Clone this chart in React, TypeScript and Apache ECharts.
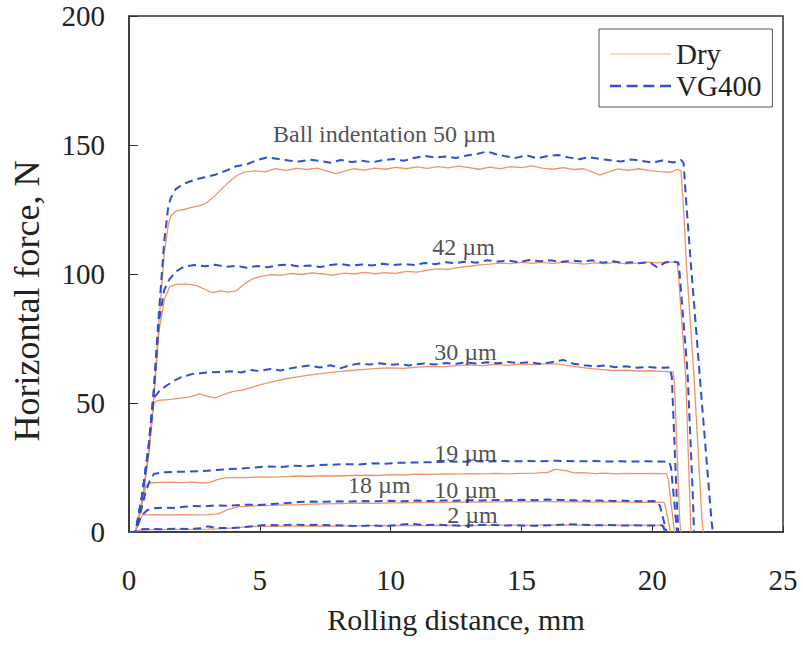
import React, { useEffect, useRef } from "react";
import * as echarts from "echarts";

// Horizontal force vs rolling distance, dry and VG400-lubricated rolling,
// for several ball indentation depths. Points are [distance mm, force N].
const dry50: [number, number][] = [
  [0, 0], [0.25, 0], [0.5, 12], [0.75, 30], [0.95, 52], [1.15, 82], [1.35, 108], [1.5, 119], [1.6, 122.5],
  [1.8, 124.5], [2.1, 125], [2.4, 125.8], [2.7, 126.5], [2.95, 127.5], [3.2, 129.5], [3.5, 132.5], [3.8, 135.5],
  [4.1, 138], [4.4, 139.5], [4.8, 140], [5.2, 139.6], [5.6, 140.8], [6.0, 140.2], [6.4, 140.9], [6.8, 140.5],
  [7.2, 141], [7.6, 139.8], [7.9, 138.9], [8.2, 139.8], [8.6, 140.8], [9.0, 140.3], [9.4, 141], [9.8, 140.6],
  [10.2, 141.3], [10.6, 140.8], [11.0, 141.5], [11.4, 140.9], [11.8, 141.6], [12.2, 141.1], [12.6, 141.8],
  [13.0, 141.2], [13.4, 140.6], [13.8, 141.4], [14.2, 140.8], [14.6, 141.6], [15.0, 141.2], [15.4, 141.9],
  [15.8, 141], [16.2, 140.6], [16.6, 141.2], [17.0, 140.5], [17.4, 140.8], [17.7, 139.6], [18.0, 138.3],
  [18.3, 139.5], [18.7, 140.7], [19.1, 140.2], [19.5, 140.8], [19.9, 140.1], [20.3, 139.7], [20.7, 139.4],
  [20.95, 140.6], [21.1, 140], [21.2, 125], [21.3, 105], [21.6, 60], [21.9, 5], [21.95, 0],
];

const vg50: [number, number][] = [
  [0, 0], [0.25, 0], [0.5, 14], [0.75, 33], [0.95, 55], [1.15, 86], [1.35, 113], [1.5, 126], [1.6, 129.5],
  [1.8, 133], [2.1, 135], [2.5, 136.5], [2.9, 137.5], [3.3, 138.5], [3.7, 140], [4.1, 141.8], [4.5, 142.5],
  [4.9, 144.2], [5.3, 145.2], [5.7, 144.6], [6.1, 144], [6.5, 143.6], [6.9, 144.3], [7.3, 143.8], [7.7, 143.1],
  [8.1, 144.2], [8.5, 143.4], [8.9, 143.9], [9.3, 143.3], [9.7, 144.1], [10.1, 144.6], [10.5, 143.9], [10.9, 145],
  [11.3, 145.8], [11.7, 145.1], [12.1, 145.5], [12.5, 145], [12.9, 145.9], [13.3, 146.5], [13.7, 147.5],
  [14.0, 146.5], [14.4, 145.6], [14.8, 145], [15.2, 146], [15.6, 144.8], [16.0, 145.7], [16.4, 146.1],
  [16.8, 145.2], [17.2, 144.5], [17.6, 145.3], [18.0, 144.6], [18.4, 144.1], [18.8, 143.6], [19.2, 144.4],
  [19.6, 143.8], [20.0, 143.2], [20.4, 144], [20.8, 143.2], [21.1, 144.2], [21.2, 143], [21.3, 128],
  [21.44, 109], [21.9, 50], [22.27, 4], [22.32, 0],
];

const dry42: [number, number][] = [
  [0, 0], [0.25, 0], [0.5, 12], [0.75, 30], [0.95, 52], [1.15, 78], [1.35, 90], [1.55, 95], [1.8, 96],
  [2.2, 96.2], [2.6, 95.5], [2.9, 94], [3.2, 92.8], [3.5, 93.5], [3.8, 93], [4.1, 93.5], [4.4, 96], [4.7, 98],
  [5.0, 99], [5.4, 99.8], [5.8, 99.5], [6.2, 100.2], [6.6, 99.8], [7.0, 100.4], [7.4, 100], [7.8, 99.6],
  [8.2, 100.3], [8.6, 100], [9.0, 100.6], [9.4, 100.1], [9.8, 100.5], [10.2, 100.2], [10.6, 101], [11.0, 100.7],
  [11.4, 101.5], [11.8, 102], [12.2, 101.8], [12.6, 102.6], [13.0, 103], [13.4, 103.5], [13.8, 103.8],
  [14.2, 104.2], [14.6, 104], [15.0, 104.5], [15.4, 104.1], [15.8, 104.5], [16.2, 104], [16.6, 104.6],
  [17.0, 104.2], [17.4, 103.8], [17.8, 104.3], [18.2, 104], [18.6, 104.5], [19.0, 103.9], [19.4, 104.2],
  [19.8, 104.6], [20.2, 104.3], [20.6, 104.7], [20.95, 104.5], [21.0, 100], [21.28, 60], [21.44, 12], [21.48, 0],
];

const vg42: [number, number][] = [
  [0, 0], [0.25, 0], [0.5, 14], [0.75, 33], [0.95, 55], [1.15, 82], [1.35, 94], [1.55, 98], [1.8, 101],
  [2.1, 102.8], [2.5, 103.5], [2.9, 103], [3.3, 103.6], [3.7, 102.8], [4.1, 103.2], [4.5, 102.4], [4.9, 103.1],
  [5.3, 102.6], [5.7, 103.4], [6.1, 103.7], [6.5, 102.9], [6.9, 103.3], [7.3, 102.7], [7.7, 103.5], [8.1, 103.9],
  [8.5, 103.2], [8.9, 103.7], [9.3, 103.3], [9.7, 104], [10.1, 103.5], [10.5, 103.9], [10.9, 103.5],
  [11.3, 104.3], [11.7, 103.8], [12.1, 104.6], [12.5, 104.2], [12.9, 104.9], [13.3, 104.4], [13.7, 105.3],
  [14.1, 104.8], [14.5, 105.2], [14.9, 104.6], [15.3, 105.4], [15.7, 104.9], [16.1, 105.3], [16.5, 104.6],
  [16.9, 105.2], [17.3, 104.8], [17.7, 105.3], [18.1, 104.4], [18.5, 104.9], [18.9, 104.3], [19.2, 104.6],
  [19.5, 104.2], [19.9, 104.6], [20.2, 102.5], [20.5, 104.5], [20.8, 104.8], [21.0, 104.5], [21.05, 100],
  [21.35, 62], [21.55, 15], [21.6, 0],
];

const dry30: [number, number][] = [
  [0, 0], [0.25, 0], [0.5, 12], [0.75, 30], [0.95, 50], [1.1, 51], [1.5, 51.3], [1.9, 51.8], [2.3, 52.3],
  [2.7, 53.5], [3.0, 52.6], [3.3, 52], [3.6, 53.2], [3.95, 54.4], [4.3, 55], [4.6, 55.8], [5.0, 57], [5.5, 58.3],
  [6.0, 59.4], [6.5, 60.2], [7.0, 61], [7.5, 61.6], [8.0, 62.2], [8.5, 62.6], [9.0, 63], [9.5, 63.4], [10.0, 63.6],
  [10.5, 63.4], [11.0, 63.9], [11.5, 64.2], [12.0, 64], [12.5, 64.5], [13.0, 64.8], [13.5, 64.5], [14.0, 65],
  [14.5, 64.6], [15.0, 65.2], [15.5, 64.8], [16.0, 65.3], [16.5, 65], [17.0, 64.2], [17.5, 63.5], [18.0, 63],
  [18.5, 62.6], [19.0, 62.7], [19.5, 62.4], [20.0, 62.5], [20.5, 62.2], [20.8, 62.1], [20.85, 58], [21.05, 5],
  [21.1, 0],
];

const vg30: [number, number][] = [
  [0, 0], [0.25, 0], [0.5, 14], [0.75, 33], [0.95, 52], [1.15, 54.5], [1.4, 56.5], [1.66, 58.3], [2.0, 60],
  [2.4, 61.2], [2.8, 61.6], [3.1, 61.9], [3.5, 62], [3.9, 62.3], [4.3, 61.8], [4.6, 62.8], [5.0, 62.4],
  [5.4, 63.2], [5.8, 62.6], [6.1, 63.3], [6.5, 64], [6.9, 64.5], [7.3, 63.8], [7.7, 64.6], [8.1, 63.5],
  [8.5, 64.8], [8.8, 65.3], [9.2, 64.9], [9.6, 65.4], [10.0, 64.8], [10.4, 65.1], [10.7, 64.5], [11.0, 65],
  [11.3, 65.3], [11.7, 64.9], [12.1, 65.5], [12.5, 65.2], [12.9, 65.7], [13.3, 65.3], [13.7, 65.8], [14.1, 65.4],
  [14.5, 65.9], [14.9, 65.5], [15.3, 65.8], [15.7, 65.2], [16.1, 65.7], [16.6, 66.7], [17.0, 65.2], [17.4, 64.6],
  [17.8, 64.2], [18.2, 64.5], [18.6, 63.9], [19.0, 64.2], [19.4, 63.7], [19.8, 64], [20.2, 63.6], [20.67, 63.8],
  [20.75, 60], [20.95, 10], [21.0, 0],
];

const vg19: [number, number][] = [
  [0, 0], [0.25, 0], [0.45, 8], [0.65, 16], [0.8, 20], [0.95, 22.5], [1.3, 23.2], [1.8, 23.3], [2.3, 23.4],
  [2.8, 23.6], [3.3, 24], [3.8, 24.4], [4.3, 24.6], [4.8, 25], [5.3, 25.4], [5.8, 25.2], [6.3, 25.7], [6.8, 25.5],
  [7.3, 26], [7.8, 26.1], [8.3, 26.3], [8.8, 26.2], [9.3, 26.6], [9.8, 26.5], [10.3, 26.8], [10.8, 26.9],
  [11.3, 27], [11.8, 27.1], [12.3, 27.3], [12.8, 27.2], [13.3, 27.4], [13.8, 27.3], [14.3, 27.5], [14.8, 27.4],
  [15.3, 27.5], [15.8, 27.4], [16.3, 27.6], [16.8, 27.5], [17.3, 27.4], [17.8, 27.5], [18.3, 27.3], [18.8, 27.4],
  [19.3, 27.3], [19.8, 27.4], [20.3, 27.3], [20.65, 27.2], [20.72, 25], [20.95, 0],
];

const dry18: [number, number][] = [
  [0, 0], [0.25, 0], [0.45, 8], [0.64, 18], [0.8, 19], [1.2, 19.2], [1.6, 19.3], [2.0, 19.1], [2.4, 19.4],
  [2.8, 19], [3.1, 19.2], [3.4, 20.4], [3.7, 21], [4.1, 21.2], [4.5, 21.1], [5.0, 21.4], [5.5, 21.3], [6.0, 21.5],
  [6.5, 21.7], [7.0, 21.6], [7.5, 21.8], [8.0, 21.7], [8.5, 21.9], [9.0, 22], [9.5, 21.9], [10.0, 22.2],
  [10.5, 22.1], [11.0, 22.4], [11.5, 22.3], [12.0, 22.5], [12.5, 22.4], [13.0, 22.6], [13.5, 22.5], [14.0, 22.7],
  [14.5, 22.5], [15.0, 22.7], [15.5, 22.8], [16.0, 23.1], [16.3, 24.3], [16.7, 23.8], [17.0, 22.9], [17.4, 23],
  [17.8, 22.6], [18.2, 22.8], [18.6, 22.5], [19.0, 22.7], [19.5, 22.6], [20.0, 22.7], [20.55, 22.6], [20.62, 20],
  [20.85, 0],
];

const vg10: [number, number][] = [
  [0, 0], [0.25, 0], [0.45, 6], [0.7, 8.5], [0.96, 9.2], [1.3, 9.4], [1.7, 9.3], [2.1, 9.8], [2.5, 10.1],
  [2.9, 9.9], [3.3, 10.3], [3.7, 10.2], [4.1, 10.4], [4.5, 10.6], [5.0, 10.5], [5.5, 10.9], [6.0, 11.2],
  [6.5, 11.6], [7.0, 11.8], [7.5, 11.7], [8.0, 11.9], [8.5, 11.8], [9.0, 12], [9.5, 11.9], [10.0, 12.1],
  [10.5, 11.9], [11.0, 12.2], [11.5, 12], [12.0, 12.2], [12.5, 12.1], [13.0, 12.3], [13.5, 12.2], [14.0, 12.4],
  [14.5, 12.3], [15.0, 12.5], [15.5, 12.3], [16.0, 12.6], [16.5, 12.4], [17.0, 12.3], [17.5, 12.1], [18.0, 12.2],
  [18.5, 12], [19.0, 12.1], [19.5, 11.9], [20.0, 12], [20.2, 11.9], [20.3, 10], [20.55, 0],
];

const dry10: [number, number][] = [
  [0, 0], [0.25, 0], [0.4, 4], [0.51, 6.6], [1.0, 6.7], [1.5, 6.6], [2.0, 6.7], [2.5, 6.6], [3.0, 6.7],
  [3.4, 7], [3.8, 8.8], [4.2, 9.8], [4.6, 10], [5.0, 10.2], [5.5, 10.3], [6.0, 10.5], [6.5, 10.6], [7.0, 10.8],
  [7.5, 10.9], [8.0, 11], [8.5, 11.1], [9.0, 11.2], [9.5, 11.1], [10.0, 11.3], [10.5, 11.3], [11.0, 11.4],
  [11.5, 11.5], [12.0, 11.5], [12.5, 11.6], [13.0, 11.7], [13.5, 11.6], [14.0, 11.7], [14.5, 11.8], [15.0, 11.7],
  [15.5, 11.8], [16.0, 11.8], [16.5, 11.7], [17.0, 11.8], [17.5, 11.6], [18.0, 11.7], [18.5, 11.6], [19.0, 11.6],
  [19.5, 11.5], [20.0, 11.6], [20.45, 11.5], [20.5, 10], [20.7, 0],
];

const vg2: [number, number][] = [
  [0, 0], [0.25, 0], [0.4, 1], [0.8, 1.2], [1.3, 1.1], [1.8, 1.3], [2.3, 1.2], [2.8, 1.5], [3.0, 2.2],
  [3.3, 1.6], [3.8, 1.5], [4.3, 1.8], [4.8, 2.3], [5.3, 2.8], [5.8, 2.6], [6.3, 2.9], [6.8, 2.7], [7.3, 2.8],
  [7.8, 2.6], [8.3, 2.5], [8.8, 2.3], [9.3, 2.6], [9.8, 2.2], [10.3, 2.8], [10.8, 3.2], [11.3, 2.7], [11.8, 2.8],
  [12.3, 2.6], [12.8, 2.4], [13.3, 2.7], [13.8, 2.8], [14.3, 2.5], [14.8, 2.6], [15.3, 2.4], [15.8, 2.5],
  [16.3, 2.7], [16.8, 3], [17.3, 2.8], [17.8, 2.6], [18.3, 2.7], [18.8, 2.5], [19.3, 2.6], [19.8, 2.5],
  [20.3, 2.6], [20.4, 2.5], [20.5, 0],
];

const dry2: [number, number][] = [
  [0, 0], [0.25, 0], [0.4, 0.8], [1.0, 0.9], [2.0, 1.0], [3.0, 1.1], [3.5, 1.2], [4.0, 1.6], [4.5, 2], [5.0, 2.2],
  [6.0, 2.3], [7.0, 2.4], [8.0, 2.3], [9.0, 2.5], [10.0, 2.6], [11.0, 2.5], [12.0, 2.6], [13.0, 2.5], [14.0, 2.7],
  [15.0, 2.6], [16.0, 2.8], [17.0, 2.7], [18.0, 2.6], [19.0, 2.7], [20.0, 2.6], [20.45, 2.6], [20.55, 0],
];

const dryCurves = [dry50, dry42, dry30, dry18, dry10, dry2];
const vgCurves = [vg50, vg42, vg30, vg19, vg10, vg2];

// Indentation depth labels, anchored at [distance, force]
const labelTexts = ["Ball indentation 50 µm", "42 µm", "30 µm", "19 µm", "18 µm", "10 µm", "2 µm"];
const labelX = [9.76, 12.79, 12.86, 12.86, 9.57, 12.86, 13.13];
const labelY = [154.3, 110.5, 69.8, 30.6, 18.2, 16.3, 6.6];

const xTicks = { min: 0, max: 25, step: 5 };
const yTicks = { min: 0, max: 200, step: 50 };

const FONT = "Liberation Serif, Times New Roman, serif";
const DRY_COLOR = "#EE9468";
const VG_COLOR = "#2F4FD2";
const TEXT_COLOR = "#222";
const AXIS_COLOR = "#333";

export default function App() {
  const ref = useRef<HTMLDivElement>(null);

  useEffect(() => {
    if (!ref.current) return;
    const chart = echarts.init(ref.current, null, { renderer: "svg" });

    const drySeries = dryCurves.map((d) => ({
      type: "line",
      name: "Dry",
      data: d,
      symbol: "none",
      showSymbol: false,
      z: 2,
      itemStyle: { color: DRY_COLOR },
      lineStyle: { color: DRY_COLOR, width: 1.3 },
    }));
    const vgSeries = vgCurves.map((d) => ({
      type: "line",
      name: "VG400",
      data: d,
      symbol: "none",
      showSymbol: false,
      z: 3,
      itemStyle: { color: VG_COLOR },
      lineStyle: { color: VG_COLOR, width: 2, type: [8, 5] },
    }));
    const labelSeries = {
      type: "scatter",
      name: "labels",
      silent: true,
      symbolSize: 1,
      z: 4,
      itemStyle: { color: "rgba(0,0,0,0)" },
      data: labelTexts.map((t, i) => ({ name: t, value: [labelX[i], labelY[i]] })),
      label: {
        show: true,
        position: "inside",
        formatter: "{b}",
        fontFamily: FONT,
        fontSize: 24,
        color: TEXT_COLOR,
      },
    };

    chart.setOption({
      animation: false,
      backgroundColor: "#ffffff",
      textStyle: { fontFamily: FONT },
      grid: {
        left: 129,
        right: 20,
        top: 16,
        bottom: 114,
        show: true,
        borderColor: AXIS_COLOR,
        borderWidth: 1.5,
        backgroundColor: "transparent",
      },
      legend: {
        left: 599,
        top: 29,
        orient: "vertical",
        padding: [10, 11, 6, 11],
        itemGap: 2,
        itemWidth: 61,
        itemHeight: 2.5,
        borderColor: "#555",
        borderWidth: 1,
        backgroundColor: "#fff",
        selectedMode: false,
        itemStyle: { borderWidth: 0 },
        textStyle: { fontFamily: FONT, fontSize: 29, lineHeight: 30, color: TEXT_COLOR },
        data: [
          {
            name: "Dry",
            icon: "path://M0,0.7H61V1.8H0Z",
            itemStyle: { color: "#F3AE8A", borderWidth: 0 },
          },
          {
            name: "VG400",
            icon: "path://M0,0H11V2.5H0Z M16.7,0H27.7V2.5H16.7Z M33.3,0H44.3V2.5H33.3Z M50,0H61V2.5H50Z",
            itemStyle: { color: VG_COLOR, borderWidth: 0 },
          },
        ],
      },
      xAxis: {
        type: "value",
        min: xTicks.min,
        max: xTicks.max,
        interval: xTicks.step,
        name: "Rolling distance, mm",
        nameLocation: "middle",
        nameGap: 72,
        nameTextStyle: { fontFamily: FONT, fontSize: 30, color: TEXT_COLOR },
        axisLine: { show: true, lineStyle: { color: AXIS_COLOR, width: 1.5 } },
        axisTick: { show: true, inside: true, length: 6, lineStyle: { color: AXIS_COLOR, width: 1 } },
        axisLabel: { fontFamily: FONT, fontSize: 29, color: TEXT_COLOR, margin: 33 },
        splitLine: { show: false },
      },
      yAxis: {
        type: "value",
        min: yTicks.min,
        max: yTicks.max,
        interval: yTicks.step,
        name: "Horizontal force, N",
        nameLocation: "middle",
        nameRotate: 90,
        nameGap: 84,
        nameTextStyle: { fontFamily: FONT, fontSize: 36, color: TEXT_COLOR, padding: [0, 54, 0, 0] },
        axisLine: { show: true, lineStyle: { color: AXIS_COLOR, width: 1.5 } },
        axisTick: { show: true, inside: true, length: 9, lineStyle: { color: AXIS_COLOR, width: 1 } },
        axisLabel: { fontFamily: FONT, fontSize: 29, color: TEXT_COLOR, margin: 24 },
        splitLine: { show: false },
      },
      series: [...drySeries, ...vgSeries, labelSeries],
    });

    return () => chart.dispose();
  }, []);

  return (
    <div
      ref={ref}
      style={{ position: "fixed", left: 0, top: 0, width: 803, height: 646, background: "#fff" }}
    />
  );
}
